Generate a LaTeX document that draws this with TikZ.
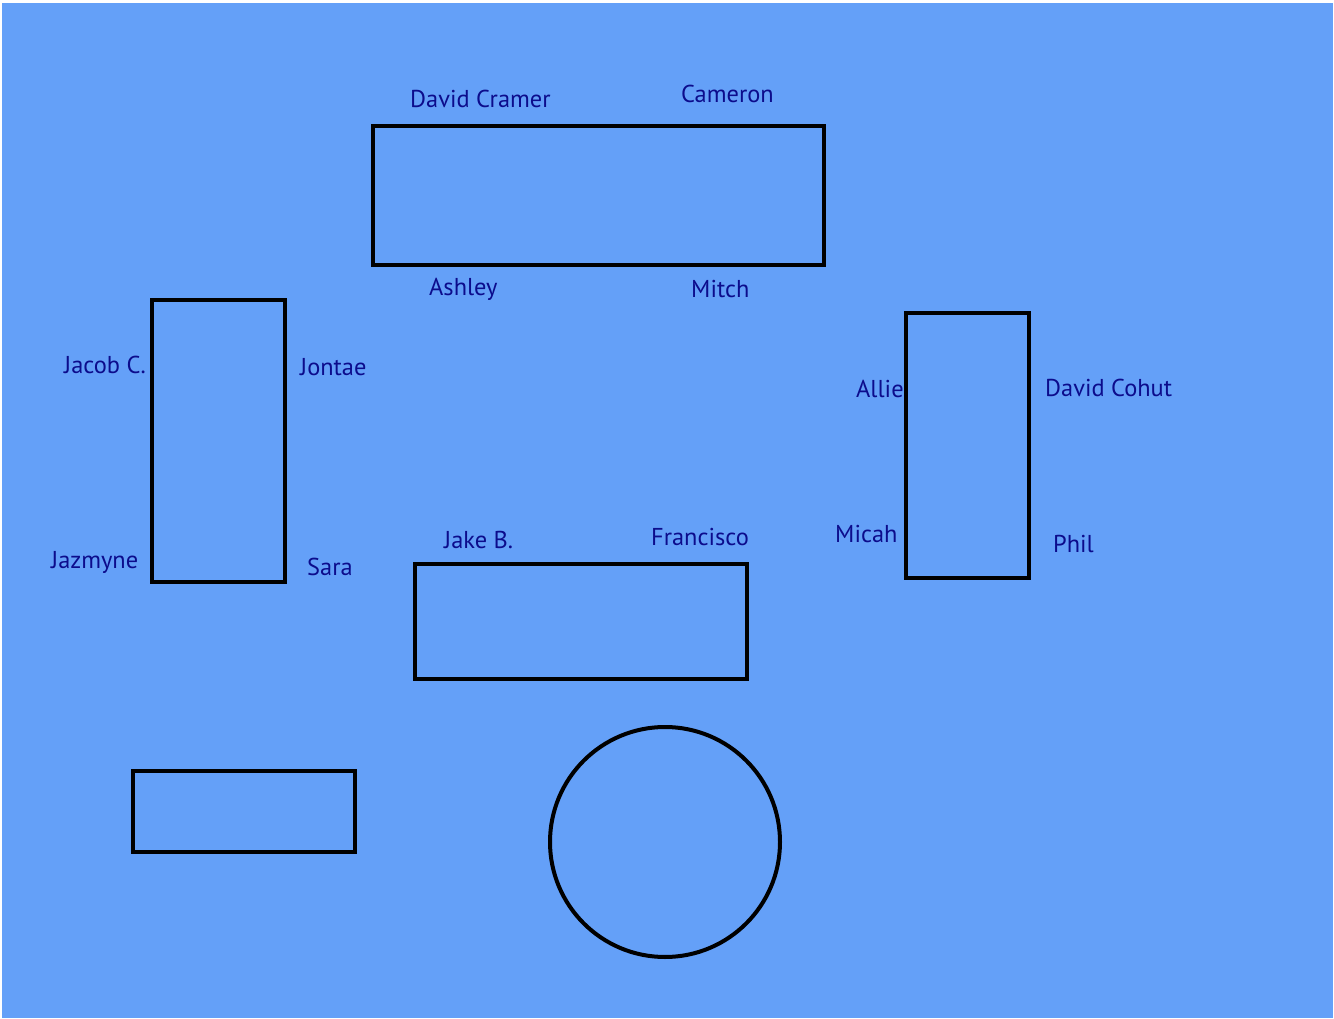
\documentclass[tikz,border=0pt]{standalone}
\usepackage{fontspec}
\setmainfont{PT Sans}
\definecolor{bg}{RGB}{100,160,248}
\definecolor{txt}{RGB}{12,12,140}
\begin{document}
\begin{tikzpicture}[x=1pt,y=-1pt,
  tbl/.style={draw=black,line width=4pt},
  lbl/.style={anchor=base west,text=txt,font=\fontsize{24.4}{26}\selectfont,inner sep=0pt}]
\useasboundingbox (0,0) rectangle (1334,1019);
\fill[white] (0,0) rectangle (1334,1019);
\fill[bg] (2,3) rectangle (1333,1018);
% tables
\draw[tbl] (373,126) rectangle (824,265);
\draw[tbl] (152,300) rectangle (285,582);
\draw[tbl] (906,313) rectangle (1029,578);
\draw[tbl] (415,564) rectangle (747,679);
\draw[tbl] (133,771) rectangle (355,852);
\draw[tbl] (665,842) circle (115);
% names
\node[lbl] (dc) at (410,108) {David Cramer};
\node[lbl] (ca) at (681,103) {Cameron};
\node[lbl] (as) at (429,295) {Ashley};
\node[lbl] (mi) at (691,298) {Mitch};
\node[lbl] (jc) at (64,373) {Jacob C.};
\node[lbl] (jo) at (300,375) {Jontae};
\node[lbl] (jz) at (51,568) {Jazmyne};
\node[lbl] (sa) at (307,575) {Sara};
\node[lbl] (al) at (856,397) {Allie};
\node[lbl] (dh) at (1045,396) {David Cohut};
\node[lbl] (mc) at (835,542) {Micah};
\node[lbl] (ph) at (1053,552) {Phil};
\node[lbl] (jb) at (444,548) {Jake B.};
\node[lbl] (fr) at (651,545) {Francisco};
\end{tikzpicture}
\end{document}
